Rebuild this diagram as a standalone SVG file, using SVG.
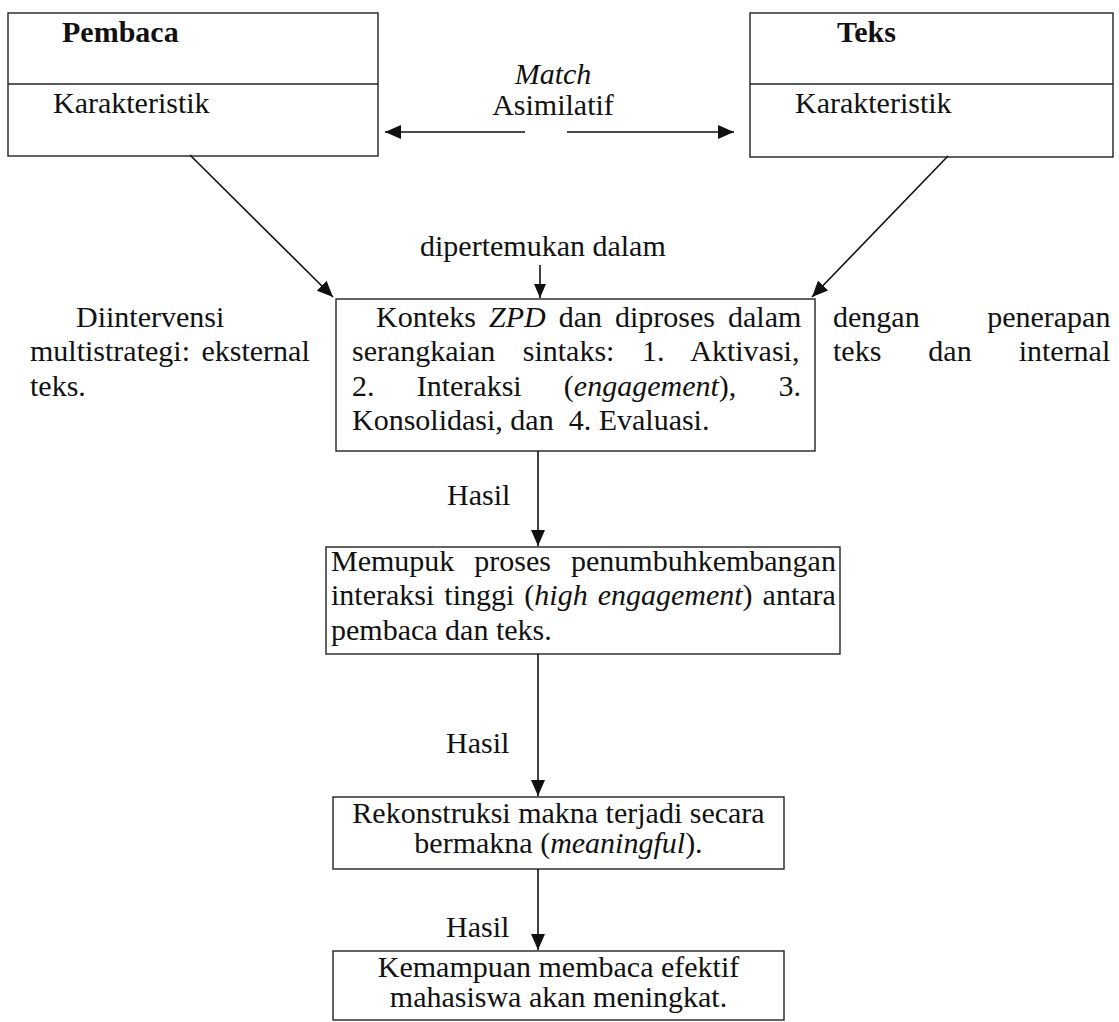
<svg xmlns="http://www.w3.org/2000/svg" width="1119" height="1022" viewBox="0 0 1119 1022">
<style>
text{font-family:"Liberation Serif","Times New Roman",serif;font-size:30px;fill:#111}
.b{font-weight:bold}
.i{font-style:italic}
.box{fill:none;stroke:#222;stroke-width:1.4}
.ln{fill:none;stroke:#111;stroke-width:1.6}
.c{text-anchor:middle}
</style>
<defs>
<marker id="ah" markerUnits="userSpaceOnUse" markerWidth="16" markerHeight="14" refX="16" refY="7" orient="auto">
<path d="M0,0 L16,7 L0,14 Z" fill="#111"/>
</marker>
<marker id="ahs" markerUnits="userSpaceOnUse" markerWidth="14" markerHeight="12" refX="14" refY="6" orient="auto">
<path d="M0,0 L14,6 L0,12 Z" fill="#111"/>
</marker>
</defs>
<rect width="1119" height="1022" fill="#fff"/>

<g id="pembaca">
<rect class="box" x="8" y="13" width="370" height="143"/>
<line class="box" x1="8" y1="84" x2="378" y2="84"/>
<text class="b" x="62" y="42">Pembaca</text>
<text x="53" y="113">Karakteristik</text>
</g>

<g id="teks">
<rect class="box" x="750" y="13" width="363" height="144"/>
<line class="box" x1="750" y1="84" x2="1113" y2="84"/>
<text class="b" x="837" y="42">Teks</text>
<text x="795" y="113">Karakteristik</text>
</g>

<g id="match-label">
<text class="i c" x="553" y="84">Match</text>
<text class="c" x="553" y="115">Asimilatif</text>
</g>

<g id="dipertemukan-label">
<text x="420" y="256">dipertemukan dalam</text>
</g>

<g id="intervensi-label">
<text x="76" y="327">Diintervensi</text>
<text x="30" y="361" word-spacing="4">multistrategi: eksternal</text>
<text x="30" y="396">teks.</text>
</g>

<g id="penerapan-label">
<text x="833" y="327" word-spacing="60">dengan penerapan</text>
<text x="833" y="361" word-spacing="39.5">teks dan internal</text>
</g>

<g id="konteks">
<rect class="box" x="336" y="299" width="479" height="152"/>
<text x="376" y="327" word-spacing="5.5">Konteks <tspan class="i">ZPD</tspan> dan diproses dalam</text>
<text x="352" y="361" word-spacing="20">serangkaian sintaks: 1. Aktivasi,</text>
<text x="352" y="396" word-spacing="34.7">2. Interaksi (<tspan class="i">engagement</tspan>), 3.</text>
<text x="352" y="430" xml:space="preserve">Konsolidasi, dan  4. Evaluasi.</text>
</g>

<g id="memupuk">
<rect class="box" x="326" y="547" width="514" height="107"/>
<text x="331" y="571" word-spacing="12.5">Memupuk proses penumbuhkembangan</text>
<text x="331" y="605" word-spacing="2.5">interaksi tinggi (<tspan class="i">high engagement</tspan>) antara</text>
<text x="331" y="640">pembaca dan teks.</text>
</g>

<g id="rekonstruksi">
<rect class="box" x="333" y="797" width="451" height="72"/>
<text class="c" x="558.5" y="823">Rekonstruksi makna terjadi secara</text>
<text class="c" x="558.5" y="853">bermakna (<tspan class="i">meaningful</tspan>).</text>
</g>

<g id="kemampuan">
<rect class="box" x="333" y="951" width="451" height="69"/>
<text class="c" x="558.5" y="977">Kemampuan membaca efektif</text>
<text class="c" x="558.5" y="1007">mahasiswa akan meningkat.</text>
</g>

<g id="hasil-labels">
<text x="447" y="505">Hasil</text>
<text x="446" y="753">Hasil</text>
<text x="446" y="937">Hasil</text>
</g>

<g id="connectors">
<line class="ln" x1="525" y1="132" x2="385" y2="132" marker-end="url(#ah)"/>
<line class="ln" x1="567" y1="132" x2="734" y2="132" marker-end="url(#ah)"/>
<line class="ln" x1="190" y1="155" x2="333" y2="297" marker-end="url(#ah)"/>
<line class="ln" x1="948" y1="156" x2="812" y2="297" marker-end="url(#ah)"/>
<line class="ln" x1="540" y1="265" x2="540" y2="298" marker-end="url(#ahs)"/>
<line class="ln" x1="538" y1="451" x2="538" y2="546" marker-end="url(#ah)"/>
<line class="ln" x1="538" y1="654" x2="538" y2="796" marker-end="url(#ah)"/>
<line class="ln" x1="538" y1="869" x2="538" y2="950" marker-end="url(#ah)"/>
</g>
</svg>
